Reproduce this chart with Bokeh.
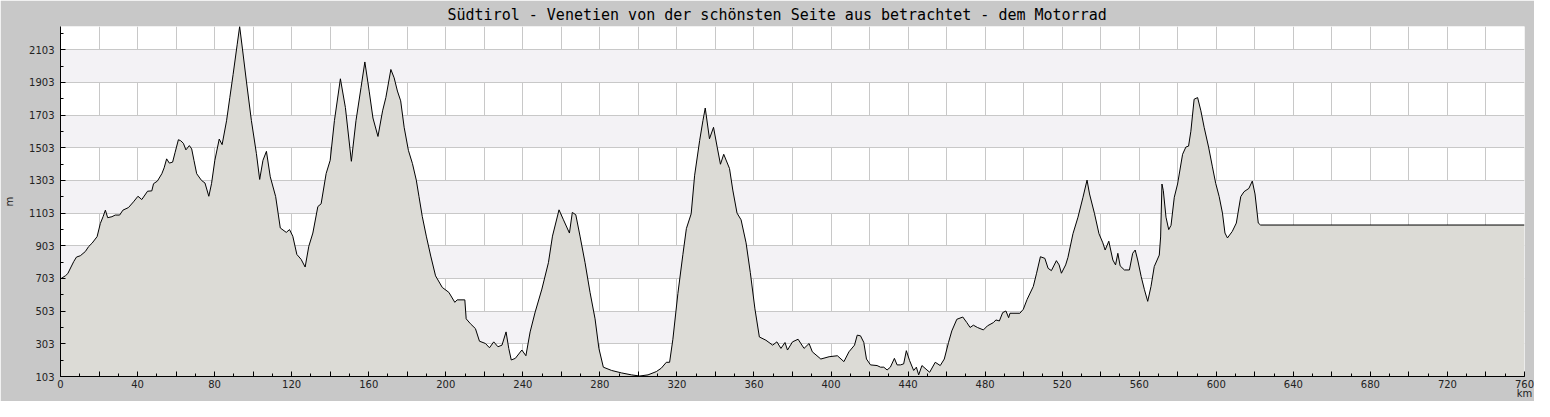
from bokeh.plotting import figure
from bokeh.models import Range1d, FixedTicker, ColumnDataSource
from bokeh.embed import file_html
from bokeh.resources import INLINE

km = [0, 2.6, 3.8, 5.2, 6.9, 8.3, 10.3, 12.9, 14.6, 16.4, 19, 20.7, 22.1, 23.3, 24.5, 26.7,
      28.4, 30.7, 32.4, 35.3, 37.9, 40.2, 42.2, 45.2, 47.4, 48.3, 50.3, 52.6, 53.8, 55.1,
      56.5, 58.2, 59.5, 61.2, 62.4, 63.8, 65.1, 66.9, 68.1, 69.3, 70.7, 73.2, 75, 77, 78.4,
      80.1, 82.4, 83.9, 86.2, 87.9, 89.6, 91.7, 93, 94.4, 96.5, 99.1, 101.7, 103.4, 105.1,
      106.9, 108.9, 111.7, 114.1, 117.2, 118.9, 120.6, 122.7, 124.9, 127, 128.9, 131, 133.6,
      135.3, 137.9, 140, 142.2, 145.3, 147.9, 151, 153.4, 156, 158, 160.3, 162.2, 164.8,
      167.2, 168.9, 171.5, 173.2, 174.9, 176.6, 178.4, 180.6, 182.7, 184.7, 186.1, 187.8,
      189.9, 192.2, 194.7, 198.2, 201.6, 204.7, 205.9, 209.9, 210.6, 212.8, 215.4, 217.5,
      220.6, 222.7, 224.9, 227.1, 229.2, 231.3, 232.7, 234, 236.1, 239.5, 241.6, 243.8,
      246.4, 249.9, 253.3, 255.4, 258.8, 261.1, 264.2, 265.7, 267.5, 269.7, 272.3, 274.9,
      277.5, 279.5, 281.8, 286.1, 291.2, 296.4, 300.7, 305, 309.3, 311.9, 314.5, 316.2,
      317.9, 320.5, 323.1, 324.9, 327.4, 329.2, 331.8, 333.5, 334.7, 336.9, 339, 340.9,
      342.6, 344.3, 347.3, 349, 351.2, 353.3, 355.9, 358.1, 360.5, 362.8, 366.2, 369.7,
      371.9, 374, 376.1, 377.4, 380, 382.9, 386, 388.6, 390.3, 394.7, 399, 403.3, 406.7,
      409.3, 412.2, 413.6, 415.3, 417, 418.4, 420.5, 423.9, 425.7, 427.4, 429.1, 430.8,
      432.9, 434.3, 436, 437.7, 439.1, 440.8, 442.9, 444.3, 445.5, 447.2, 449.8, 451.2,
      454.1, 456.7, 458.8, 461, 462.7, 465.3, 468.4, 470.5, 472.2, 473.9, 476, 479.1,
      481.2, 484.3, 485.6, 487.4, 489.1, 490.8, 492.2, 492.9, 498, 499.8, 501.8,
      505, 506.7, 508.7, 511, 512.7, 514.4, 517, 518.4, 519.6, 521.8, 523, 525.6, 528.2,
      530.8, 532.9, 534.2, 536.8, 539.1, 541.1, 542.3, 544.2, 546.3, 547.7, 548.9, 550.1,
      552.3, 554.9, 556.6, 557.9, 559.2, 561, 562.7, 564.4, 566.1, 567.8, 570.4, 571.1,
      571.8, 572.5, 573.9, 575.3, 576.5, 578.2, 579.9, 582.5, 584.2, 585.6, 586.8, 588.5,
      590.3, 592, 593.7, 596, 598, 599.7, 601.5, 603.2, 604.5, 605.8, 608.3, 610.4, 612.7,
      614.4, 616.9, 618.7, 620.1, 621.8, 623, 760]
elev = [700, 720, 733, 767, 807, 834, 842, 868, 898, 919, 959, 1040, 1081, 1121, 1075, 1081,
        1091, 1091, 1121, 1137, 1172, 1206, 1186, 1237, 1239, 1283, 1299, 1344, 1380, 1435,
        1409, 1415, 1475, 1552, 1546, 1530, 1490, 1516, 1496, 1425, 1344, 1303, 1287, 1206, 1283,
        1425, 1556, 1522, 1668, 1810, 1951, 2133, 2245, 2113, 1911, 1669, 1467, 1309, 1426,
        1481, 1325, 1204, 1012, 985, 1002, 961, 850, 820, 773, 900, 981, 1143,
        1160, 1345, 1426, 1669, 1925, 1749, 1420, 1669, 1871, 2028, 1845, 1685, 1572,
        1729, 1810, 1982, 1931, 1850, 1790, 1628, 1487, 1406, 1305, 1204, 1083,
        962, 840, 719, 648, 618, 557, 572, 572, 456, 426, 396, 319,
        305, 279, 315, 285, 295, 376, 275, 204, 214, 265, 230, 376,
        497, 638, 800, 962, 1123, 1062, 981, 1107, 1093, 962, 800, 618,
        456, 275, 160, 140, 125, 113, 106, 113, 133, 154, 190, 190,
        331, 611, 850, 1008, 1099, 1335, 1547, 1669, 1746, 1558, 1628, 1507,
        1402, 1463, 1376, 1244, 1103, 1062, 921, 739, 517, 345, 325, 295,
        315, 275, 311, 265, 315, 331, 275, 305, 254, 210, 224, 230, 194,
        254, 295, 356, 352, 312, 210, 174, 170, 160, 160, 143, 160,
        214, 174, 174, 180, 261, 200, 140, 160, 113, 170, 143, 129,
        190, 170, 210, 312, 382, 453, 467, 433, 403, 417, 403, 388,
        413, 433, 449, 443, 494, 504, 463, 490, 490, 514, 575,
        654, 735, 836, 826, 765, 751, 812, 786, 735, 786, 832, 977, 1078,
        1200, 1305, 1220, 1099, 977, 921, 877, 931, 816, 786, 857, 780,
        755, 755, 857, 877, 816, 715, 634, 563, 654, 776, 846, 957,
        1281, 1240, 1078, 1002, 1028, 1200, 1281, 1463, 1507, 1513, 1604, 1800,
        1810, 1729, 1628, 1507, 1386, 1285, 1204, 1103, 981, 951, 991, 1042, 1204,
        1234, 1254, 1299, 1220, 1042, 1030, 1030]

title_text = "Südtirol - Venetien von der schönsten Seite aus betrachtet - dem Motorrad"
x_unit = "km"
y_unit = "m"
y_min = 103
y_max = 2245
x_max = 760
x_ticks = list(range(0, 761, 20))
x_minor = list(range(0, 761, 10))
x_labels = {t: (str(t) if t % 40 == 0 else "") for t in x_ticks}
y_ticks = list(range(103, 2104, 200))
y_minor = list(range(103, 2245, 100))

src = ColumnDataSource(dict(km=km, elev=elev, base=[y_min] * len(km)))

p = figure(width=1534, height=401, x_range=Range1d(0, x_max), y_range=Range1d(y_min, y_max),
           output_backend="svg", toolbar_location=None, tools="")
p.min_border_left = 60
p.min_border_right = 10
p.min_border_top = 25
p.min_border_bottom = 24
p.border_fill_color = "#c8c8c8"
p.background_fill_color = "#ffffff"
p.outline_line_color = None

p.title.text = title_text
p.title.text_font = "DejaVu Sans Mono"
p.title.text_font_size = "15px"
p.title.text_font_style = "normal"
p.title.text_color = "#000000"
p.title.align = "left"
p.title.offset = 387
p.title.standoff = 6

lab_color = "#222222"
for ax in (p.xaxis, p.yaxis):
    ax.major_tick_in = 5
    ax.major_tick_out = 0
    ax.minor_tick_in = 3
    ax.minor_tick_out = 0
    ax.axis_line_color = "#000000"
    ax.major_tick_line_color = "#000000"
    ax.minor_tick_line_color = "#000000"
    ax.major_label_text_font = "DejaVu Sans"
    ax.major_label_text_font_size = "10px"
    ax.major_label_text_color = lab_color
    ax.axis_label_text_font = "DejaVu Sans"
    ax.axis_label_text_font_size = "10px"
    ax.axis_label_text_font_style = "normal"
    ax.axis_label_text_color = lab_color

p.xaxis.ticker = FixedTicker(ticks=x_ticks, minor_ticks=x_minor)
p.xaxis.major_label_overrides = x_labels
p.xaxis.major_label_standoff = 3
p.xaxis.axis_label = x_unit
p.xaxis.axis_label_align = "end"
p.xaxis.axis_label_standoff = -3

p.yaxis.ticker = FixedTicker(ticks=y_ticks, minor_ticks=y_minor)
p.yaxis.major_label_standoff = 6
p.yaxis.axis_label = y_unit
p.yaxis.axis_label_standoff = 11

p.xgrid.ticker = FixedTicker(ticks=x_ticks)
p.ygrid.ticker = FixedTicker(ticks=y_ticks)
p.xgrid.grid_line_color = "#c8c8c8"
p.ygrid.grid_line_color = "#c8c8c8"
p.ygrid.band_fill_color = "#f3f2f5"
p.ygrid.band_fill_alpha = 1.0

p.varea(x="km", y1="base", y2="elev", source=src, fill_color="#dcdbd6")
p.line(x="km", y="elev", source=src, line_color="#000000", line_width=1)

open("out.html", "w").write(file_html(p, INLINE))
